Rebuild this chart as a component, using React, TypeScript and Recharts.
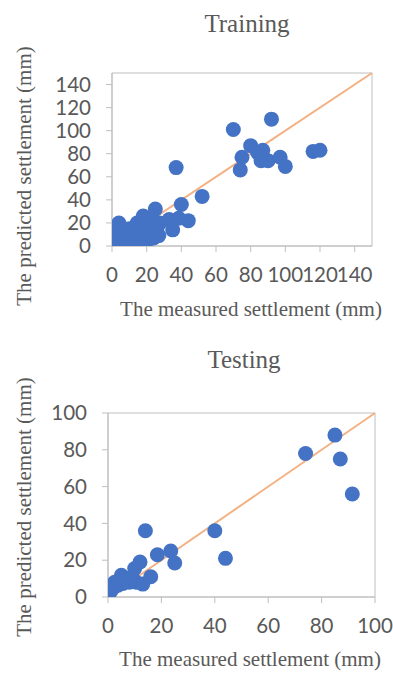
import React from "react";
import {
  ScatterChart,
  Scatter,
  XAxis,
  YAxis,
  ReferenceLine,
  ReferenceArea,
} from "recharts";

const trainingMeasured = [0, 1, 2, 4, 5, 7, 9, 11, 12.5, 14.5, 16, 17, 18, 20, 21, 22, 24, 25, 26, 27, 27.5, 33, 35, 37, 38.5, 40, 44, 52, 70, 74, 75, 80, 84, 87, 86, 90, 92, 97, 100, 116, 120, 3, 6, 10, 13, 19, 23, 15, 8, 2];
const trainingPredicted = [4, 7, 14, 20, 1.5, 6, 9, 3, 13, 20, 7, 17, 26, 4, 11, 19, 7, 32, 16, 9, 20, 23, 14, 68, 24, 36, 22, 43, 101, 66, 77, 87, 81, 83, 74, 74, 110, 77, 69, 82, 83, 10, 12, 15, 10, 14, 23, 4, 3, 3];

const testingMeasured = [0.5, 1, 2.5, 3.75, 5, 5.6, 7, 9, 10, 10.6, 12, 13, 14, 16, 18.5, 23.5, 25, 40, 44, 74, 85, 87, 91.5, 2, 4, 6, 8];
const testingPredicted = [4.5, 3, 8, 6.4, 11.8, 7.3, 9, 11, 15.5, 8, 19, 7, 36, 11, 23, 25, 18.5, 36, 21, 78, 88, 75, 56, 5, 9, 10, 8];

const trainingTicks = [0, 20, 40, 60, 80, 100, 120, 140];
const testingTicks = [0, 20, 40, 60, 80, 100];

const trainingData = trainingMeasured.map((x, i) => ({ x, y: trainingPredicted[i] }));
const testingData = testingMeasured.map((x, i) => ({ x, y: testingPredicted[i] }));

const AXIS_COLOR = "#BFBFBF";
const TEXT_COLOR = "#595959";
const MARKER = "#4472C4";
const LINE = "#F4B183";
const tickStyle = { fill: TEXT_COLOR, fontSize: 20.5, fontFamily: "Lato, 'Liberation Sans', sans-serif" };
const serif = "'Liberation Serif', 'DejaVu Serif', serif";

const Dot = (props: any) => <circle cx={props.cx} cy={props.cy} r={7.5} fill={MARKER} />;

function Panel(props: {
  data: { x: number; y: number }[];
  ticks: number[];
  max: number;
  width: number;
  height: number;
  margin: { top: number; right: number; bottom: number; left: number };
  yAxisWidth: number;
  xAxisHeight: number;
  title: string;
  titlePos: [number, number];
  xLabelPos: [number, number];
  yLabelPos: [number, number];
}) {
  const p = props;
  return (
    <ScatterChart width={p.width} height={p.height} margin={p.margin}>
      <XAxis
        type="number"
        dataKey="x"
        domain={[0, p.max]}
        ticks={p.ticks}
        interval={0}
        allowDataOverflow
        height={p.xAxisHeight}
        tick={tickStyle}
        tickSize={6}
        tickMargin={15}
        axisLine={{ stroke: AXIS_COLOR }}
        tickLine={{ stroke: AXIS_COLOR }}
      />
      <YAxis
        type="number"
        dataKey="y"
        domain={[0, p.max]}
        ticks={p.ticks}
        interval={0}
        allowDataOverflow
        width={p.yAxisWidth}
        tick={tickStyle}
        tickSize={6}
        tickMargin={15}
        axisLine={{ stroke: AXIS_COLOR }}
        tickLine={{ stroke: AXIS_COLOR }}
      />
      <ReferenceArea x1={0} x2={p.max} y1={0} y2={p.max} fill="none" stroke={AXIS_COLOR} strokeWidth={1} />
      <ReferenceLine
        segment={[
          { x: 0, y: 0 },
          { x: p.max, y: p.max },
        ]}
        stroke={LINE}
        strokeWidth={2}
      />
      <Scatter data={p.data} fill={MARKER} shape={Dot} isAnimationActive={false} />
      <text x={p.titlePos[0]} y={p.titlePos[1]} textAnchor="middle" fontFamily={serif} fontSize={25} fill={TEXT_COLOR}>
        {p.title}
      </text>
      <text x={p.xLabelPos[0]} y={p.xLabelPos[1]} textAnchor="middle" fontFamily={serif} fontSize={21} fill={TEXT_COLOR}>
        The measured settlement (mm)
      </text>
      <text
        x={p.yLabelPos[0]}
        y={p.yLabelPos[1]}
        textAnchor="middle"
        fontFamily={serif}
        fontSize={21}
        fill={TEXT_COLOR}
        transform={`rotate(-90 ${p.yLabelPos[0]} ${p.yLabelPos[1]})`}
      >
        The predicted settlement (mm)
      </text>
    </ScatterChart>
  );
}

export default function App() {
  return (
    <div style={{ position: "absolute", left: 0, top: 0, width: 393, height: 673, background: "#fff" }}>
      <div style={{ position: "absolute", left: 0, top: 0 }}>
        <Panel
          data={trainingData}
          ticks={trainingTicks}
          max={150}
          width={393}
          height={340}
          margin={{ top: 73, right: 21, bottom: 0, left: 0 }}
          yAxisWidth={112}
          xAxisHeight={94}
          title="Training"
          titlePos={[247, 32]}
          xLabelPos={[251, 316]}
          yLabelPos={[31, 176]}
        />
      </div>
      <div style={{ position: "absolute", left: 0, top: 340 }}>
        <Panel
          data={testingData}
          ticks={testingTicks}
          max={100}
          width={393}
          height={333}
          margin={{ top: 73, right: 18, bottom: 0, left: 0 }}
          yAxisWidth={108}
          xAxisHeight={76}
          title="Testing"
          titlePos={[244, 28]}
          xLabelPos={[250, 326]}
          yLabelPos={[31, 167]}
        />
      </div>
    </div>
  );
}
